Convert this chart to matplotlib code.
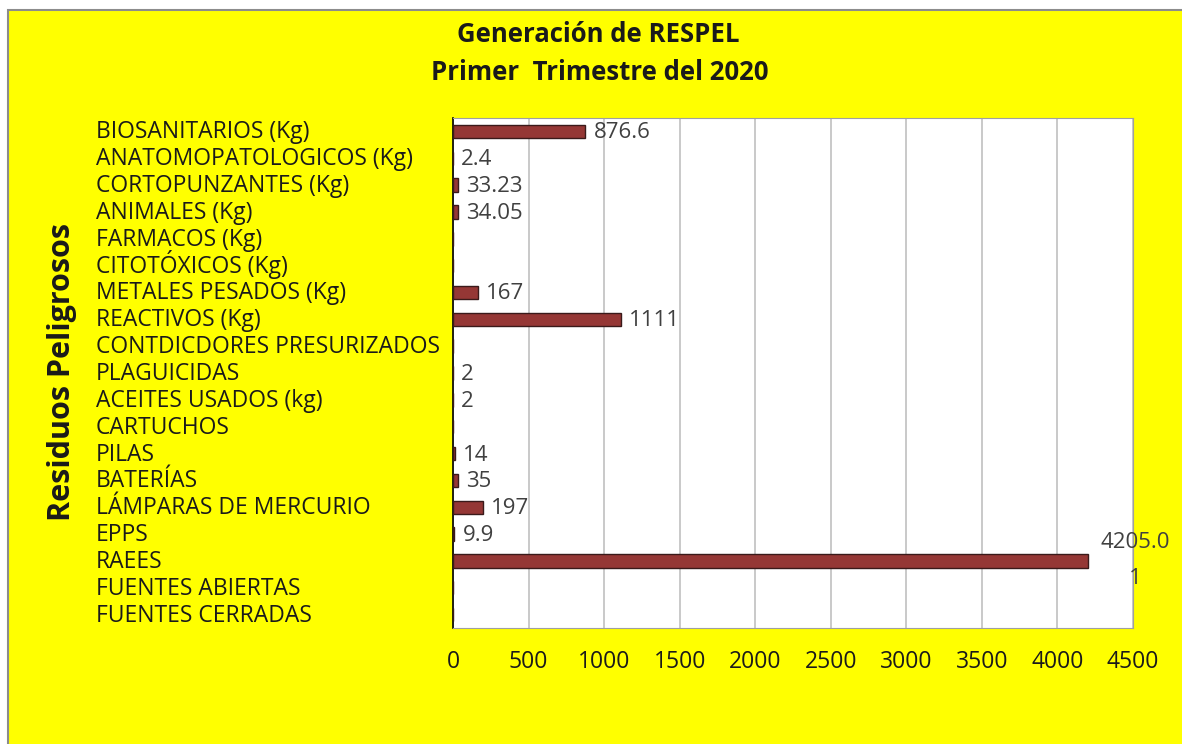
import numpy as np
import matplotlib.pyplot as plt
from matplotlib.patches import Rectangle
from matplotlib.transforms import blended_transform_factory, offset_copy

categories = [
    "BIOSANITARIOS (Kg)", "ANATOMOPATOLOGICOS (Kg)", "CORTOPUNZANTES (Kg)",
    "ANIMALES (Kg)", "FARMACOS (Kg)", "CITOTÓXICOS (Kg)", "METALES PESADOS (Kg)",
    "REACTIVOS (Kg)", "CONTDICDORES PRESURIZADOS", "PLAGUICIDAS",
    "ACEITES USADOS (kg)", "CARTUCHOS", "PILAS", "BATERÍAS",
    "LÁMPARAS DE MERCURIO", "EPPS", "RAEES", "FUENTES ABIERTAS", "FUENTES CERRADAS",
]
values = [876.6, 2.4, 33.23, 34.05, 0, 0, 167, 1111, 0, 2, 2, 0, 14, 35, 197, 9.9, 4205.01, 0, 0]
value_labels = ["876.6", "2.4", "33.23", "34.05", "", "", "167", "1111", "", "2", "2", "",
                "14", "35", "197", "9.9", "4205.0\n1", "", ""]
xticks = [0, 500, 1000, 1500, 2000, 2500, 3000, 3500, 4000, 4500]

FONT = "Open Sans"
W, H = 1182, 744

fig = plt.figure(figsize=(W / 100, H / 100), dpi=100, facecolor="white")
# yellow chart area with thin gray border
bg = Rectangle((8 / W, -0.01), 1, 1 - 10 / H + 0.01, transform=fig.transFigure,
               facecolor="#ffff00", edgecolor="#8c8c8c", linewidth=1.5, zorder=-10)
fig.patches.append(bg)

ax = fig.add_axes([453 / W, 1 - 628 / H, (1133 - 453) / W, (628 - 118) / H])
ax.set_zorder(1)
ax.set_facecolor("white")

y = np.arange(len(categories))
ax.barh(y, values, height=0.5, color="#953735", edgecolor="#3a1a1a", linewidth=1.0, zorder=3)
ax.set_ylim(len(categories) - 0.5, -0.5)
ax.set_xlim(0, 4500)
ax.set_xticks(xticks)
ax.set_xticklabels([str(t) for t in xticks], fontname=FONT, fontsize=16.5, color="#1a1a1a")
ax.tick_params(axis="x", length=0, pad=16)
ax.set_yticks([])
ax.grid(axis="x", color="#c0c0c0", linewidth=1.2, zorder=0)
for s in ax.spines.values():
    s.set_color("#a0a0a0")
ax.spines["left"].set_color("black")
ax.spines["left"].set_linewidth(1.2)

# category labels, left aligned, baseline a bit below the bar centre
trans = offset_copy(blended_transform_factory(fig.transFigure, ax.transData),
                    fig=fig, x=0, y=-7, units="dots")
for i, c in enumerate(categories):
    ax.text(96 / W, i, c, transform=trans, ha="left", va="baseline",
            fontname=FONT, fontsize=16.5, color="#1a1a1a", clip_on=False)

# data labels
for i, (v, lab) in enumerate(zip(values, value_labels)):
    if not lab:
        continue
    if "\n" in lab:
        tr = offset_copy(ax.transData, fig=fig, x=47, y=0, units="dots")
        ax.text(v, i, lab, transform=tr, ha="center", va="center", fontname=FONT,
                fontsize=16, color="#404040", linespacing=1.95, clip_on=False)
    else:
        tr = offset_copy(ax.transData, fig=fig, x=8, y=-7, units="dots")
        ax.text(v, i, lab, transform=tr, ha="left", va="baseline", fontname=FONT,
                fontsize=16, color="#404040", clip_on=False)

fig.text(598 / W, 1 - 35 / H, "Generación de RESPEL", ha="center", va="center",
         fontname=FONT, fontsize=18.5, fontweight="bold", color="#1a1a1a")
fig.text(600 / W, 1 - 72 / H, "Primer  Trimestre del 2020", ha="center", va="center",
         fontname=FONT, fontsize=18.5, fontweight="bold", color="#1a1a1a")
fig.text(62 / W, 1 - 372 / H, "Residuos Peligrosos", ha="center", va="center", rotation=90,
         fontname=FONT, fontsize=22, fontweight="bold", color="#1a1a1a")

fig.savefig("out.png", dpi=100, facecolor=fig.get_facecolor())
